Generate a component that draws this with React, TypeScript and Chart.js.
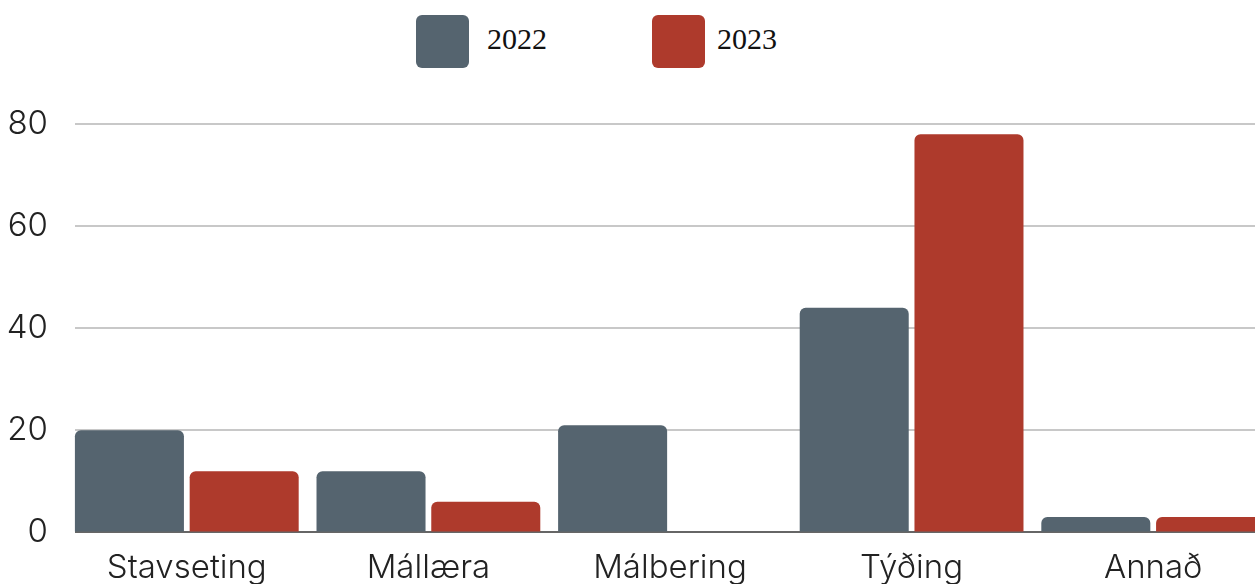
import React, { useEffect, useRef } from "react";
import { Chart, registerables } from "chart.js";

Chart.register(...registerables);

const categories = ["Stavseting", "Mállæra", "Málbering", "Týðing", "Annað"];
const seriesNames = ["2022", "2023"];
const values2022 = [20, 12, 21, 44, 3];
const values2023 = [12, 6, 0, 78, 3];
const yTickValues = [0, 20, 40, 60, 80];
const seriesColors = ["#55646f", "#ae3a2c"];

const AXIS_FONT = "Inter";
const legendTextGaps = [18, 12];

export default function App() {
  const ref = useRef<HTMLCanvasElement>(null);

  useEffect(() => {
    const canvas = ref.current;
    if (!canvas) return;
    const gridInset = {
      id: "gridInset",
      beforeDatasetsDraw(chart: any) {
        const { ctx, chartArea: a } = chart;
        ctx.save();
        ctx.clearRect(a.left - 2, a.top - 3, 11, a.bottom - a.top + 6);
        ctx.restore();
      },
    };
    const chart = new Chart(canvas, {
      type: "bar",
      data: {
        labels: categories,
        datasets: [
          {
            label: seriesNames[0],
            data: values2022,
            backgroundColor: seriesColors[0],
            borderRadius: 6,
            borderSkipped: "start",
          },
          {
            label: seriesNames[1],
            data: values2023,
            backgroundColor: seriesColors[1],
            borderRadius: 6,
            borderSkipped: "start",
          },
        ],
      },
      options: {
        animation: false,
        responsive: false,
        maintainAspectRatio: false,
        layout: { padding: { top: 116, right: 0, bottom: 4, left: 0 } },
        datasets: { bar: { categoryPercentage: 0.95, barPercentage: 0.95 } },
        plugins: {
          legend: { display: false },
          tooltip: { enabled: false },
        },
        scales: {
          x: {
            grid: { display: false, drawTicks: false },
            border: { display: true, color: "#666666", width: 2 },
            ticks: {
              color: "#222222",
              padding: 16,
              font: { family: AXIS_FONT, size: 33, weight: 300 },
            },
          },
          y: {
            min: 0,
            max: 80,
            afterBuildTicks: (s: any) => {
              s.ticks = yTickValues.map((v) => ({ value: v }));
            },
            afterFit: (s: any) => {
              s.width = 58;
            },
            grid: { color: "#c8c8c8", lineWidth: 2, drawTicks: false },
            border: { display: false },
            ticks: {
              color: "#222222",
              padding: 18,
              font: { family: AXIS_FONT, size: 33, weight: 300 },
            },
          },
        },
      },
      plugins: [gridInset],
    } as any);
    return () => chart.destroy();
  }, []);

  return (
    <div
      style={{
        position: "fixed",
        left: 0,
        top: 0,
        width: 1255,
        height: 584,
        overflow: "hidden",
        background: "#ffffff",
      }}
    >
      <div style={{ position: "absolute", left: 416, top: 15, display: "flex" }}>
        {seriesNames.map((name, i) => (
          <div key={name} style={{ display: "flex", alignItems: "center", width: 236, height: 53 }}>
            <div
              style={{
                width: 53,
                height: 53,
                borderRadius: 6,
                background: seriesColors[i],
                flex: "none",
              }}
            />
            <span
              style={{
                marginLeft: legendTextGaps[i],
                fontFamily: "'Liberation Serif', serif",
                fontSize: 30,
                color: "#111",
                position: "relative",
                top: -3,
              }}
            >
              {name}
            </span>
          </div>
        ))}
      </div>
      <canvas
        ref={ref}
        width={1266}
        height={600}
        style={{ position: "absolute", left: 8, top: 8 }}
      />
    </div>
  );
}
